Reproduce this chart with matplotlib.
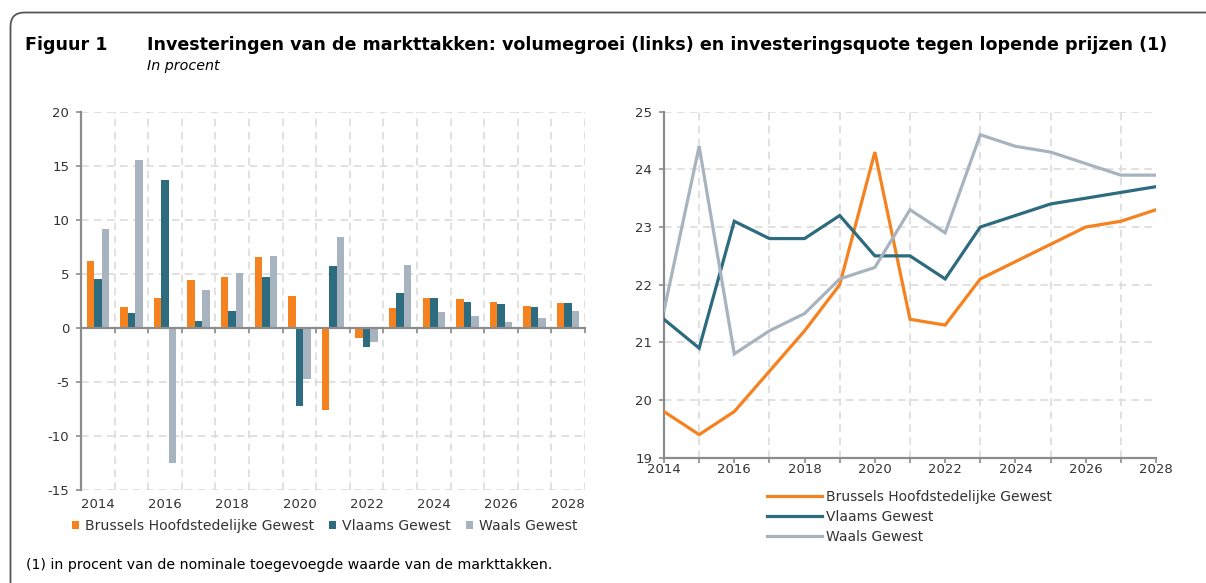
import matplotlib
matplotlib.use("Agg")
import matplotlib.pyplot as plt
from matplotlib.patches import Patch
from matplotlib.lines import Line2D
from matplotlib.path import Path
from matplotlib.patches import PathPatch
from matplotlib.transforms import IdentityTransform
import numpy as np

plt.rcParams['font.family'] = ['DejaVu Sans']
plt.rcParams['axes.unicode_minus'] = False

years = list(range(2014, 2029))
series_names = ["Brussels Hoofdstedelijke Gewest", "Vlaams Gewest", "Waals Gewest"]

# Left panel: volume growth (%)
growth_brussels = [6.2, 1.9, 2.8, 4.4, 4.7, 6.6, 3.0, -7.6, -0.9, 1.85, 2.75, 2.65, 2.45, 2.0, 2.3]
growth_vlaams   = [4.5, 1.4, 13.7, 0.65, 1.6, 4.7, -7.2, 5.7, -1.8, 3.25, 2.75, 2.45, 2.25, 1.9, 2.35]
growth_waals    = [9.2, 15.6, -12.5, 3.5, 5.1, 6.7, -4.7, 8.4, -1.3, 5.8, 1.5, 1.15, 0.55, 0.9, 1.55]

# Right panel: investment ratio at current prices (%)
quote_brussels = [19.8, 19.4, 19.8, 20.5, 21.2, 22.0, 24.3, 21.4, 21.3, 22.1, 22.4, 22.7, 23.0, 23.1, 23.3]
quote_vlaams   = [21.4, 20.9, 23.1, 22.8, 22.8, 23.2, 22.5, 22.5, 22.1, 23.0, 23.2, 23.4, 23.5, 23.6, 23.7]
quote_waals    = [21.55, 24.4, 20.8, 21.2, 21.5, 22.1, 22.3, 23.3, 22.9, 24.6, 24.4, 24.3, 24.1, 23.9, 23.9]

colors = ["#F5821F", "#2D6B7F", "#A8B3C0"]
spine_c = "#8C8C8C"
grid_c = "#D9D9D9"
text_c = "#333333"
dash = (0, (5, 3.5))

W, H = 1206, 583
fig = plt.figure(figsize=(W / 100, H / 100), dpi=100)

def fx(px):
    return px / W

def fy(py):
    return 1 - py / H

# ---------- Left panel ----------
ax1 = fig.add_axes([fx(81), fy(490), fx(585) - fx(81), fy(112) - fy(490)])
x = np.arange(len(years))
bw = 0.222
for i, (vals, c) in enumerate(zip([growth_brussels, growth_vlaams, growth_waals], colors)):
    ax1.bar(x + (i - 1) * bw, vals, width=bw, color=c, zorder=2)
ax1.set_xlim(-0.5, len(years) - 0.5)
ax1.set_ylim(-15, 20)
ax1.set_yticks(range(-15, 21, 5))
ax1.set_xticks([])
ax1.set_xticks(np.arange(-0.5, len(years), 1.0), minor=True)
ax1.xaxis.set_minor_formatter(plt.NullFormatter())
ax1.spines['bottom'].set_position(('data', 0))
for s in ['top', 'right']:
    ax1.spines[s].set_visible(False)
for s in ['left', 'bottom']:
    ax1.spines[s].set_color(spine_c)
    ax1.spines[s].set_linewidth(1.6)
ax1.tick_params(axis='x', which='minor', length=3.5, width=1.2, color=spine_c, direction='out')
ax1.tick_params(axis='y', length=3.5, width=1.2, color=spine_c, labelcolor=text_c, labelsize=9.5, pad=5)
ax1.set_axisbelow(True)
ax1.grid(axis='x', which='minor', color=grid_c, linestyle=dash, linewidth=1.1)
ax1.grid(axis='y', which='major', color=grid_c, linestyle=dash, linewidth=1.1)
sec = ax1.secondary_xaxis('bottom')
sec.set_xticks(x[::2], [str(y) for y in years[::2]])
sec.tick_params(length=0, pad=6, labelsize=9.5, labelcolor=text_c)
sec.spines['bottom'].set_visible(False)

handles1 = [Patch(facecolor=c, edgecolor='none') for c in colors]
fig.legend(handles1, series_names, loc='center left', bbox_to_anchor=(fx(72), fy(526)),
           ncol=3, frameon=False, fontsize=10.1, handlelength=0.5, handleheight=0.5,
           handletextpad=0.4, columnspacing=1.1, borderpad=0, borderaxespad=0,
           labelcolor=text_c)

# ---------- Right panel ----------
ax2 = fig.add_axes([fx(664), fy(457.7), fx(1156) - fx(664), fy(111.7) - fy(457.7)])
for vals, c in zip([quote_brussels, quote_vlaams, quote_waals], colors):
    ax2.plot(years, vals, color=c, linewidth=2.3, solid_joinstyle='miter', zorder=3)
ax2.set_xlim(2014, 2028)
ax2.set_ylim(19, 25)
ax2.set_yticks(range(19, 26))
ax2.set_xticks(years[::2])
ax2.set_xticks(years, minor=True)
ax2.xaxis.set_minor_formatter(plt.NullFormatter())
for s in ['top', 'right']:
    ax2.spines[s].set_visible(False)
for s in ['left', 'bottom']:
    ax2.spines[s].set_color(spine_c)
    ax2.spines[s].set_linewidth(1.6)
ax2.tick_params(axis='x', which='both', length=3.5, width=1.2, color=spine_c, direction='out',
                labelcolor=text_c, labelsize=9.5, pad=0.5)
ax2.tick_params(axis='y', length=3.5, width=1.2, color=spine_c, labelcolor=text_c, labelsize=9.5, pad=5)
ax2.set_axisbelow(True)
ax2.grid(axis='x', which='minor', color=grid_c, linestyle=dash, linewidth=1.1)
ax2.grid(axis='y', which='major', color=grid_c, linestyle=dash, linewidth=1.1)

handles2 = [Line2D([0], [0], color=c, linewidth=2.3) for c in colors]
fig.legend(handles2, series_names, loc='center left', bbox_to_anchor=(fx(767), fy(517)),
           ncol=1, frameon=False, fontsize=10, handlelength=3.95, handletextpad=0.3,
           labelspacing=0.45, borderpad=0, borderaxespad=0, labelcolor=text_c)

# ---------- Titles & notes ----------
fig.text(fx(25), fy(45), "Figuur 1", fontsize=12.6, fontweight='bold', color='black', va='center', ha='left')
fig.text(fx(147), fy(45), "Investeringen van de markttakken: volumegroei (links) en investeringsquote tegen lopende prijzen (1)",
         fontsize=12.6, fontweight='bold', color='black', va='center', ha='left')
fig.text(fx(147), fy(66), "In procent", fontsize=10.3, fontstyle='italic', color='black', va='center', ha='left')
fig.text(fx(26), fy(565), "(1) in procent van de nominale toegevoegde waarde van de markttakken.",
         fontsize=10.2, color='black', va='center', ha='left')

# ---------- Rounded frame ----------
r = 14
left, top = 10.5, H - 12.5
verts = [(left, -5), (left, top - r), (left, top), (left + r, top), (W + 10, top)]
codes = [Path.MOVETO, Path.LINETO, Path.CURVE3, Path.CURVE3, Path.LINETO]
frame = PathPatch(Path(verts, codes), transform=IdentityTransform(), facecolor='none',
                  edgecolor='#555555', linewidth=1.3)
fig.patches.append(frame)

fig.savefig("out.png", dpi=100)
